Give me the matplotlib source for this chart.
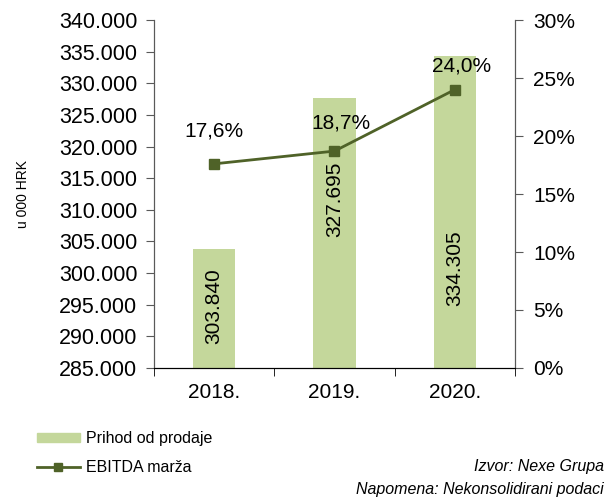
import matplotlib.pyplot as plt
from matplotlib.lines import Line2D
from matplotlib.patches import Patch
from matplotlib.ticker import FuncFormatter

plt.rcParams['font.family'] = ['Liberation Sans', 'DejaVu Sans']

years = ['2018.', '2019.', '2020.']
revenue = [303.840, 327.695, 334.305]
ebitda_margin = [17.6, 18.7, 24.0]
revenue_labels = ['303.840', '327.695', '334.305']
margin_labels = ['17,6%', '18,7%', '24,0%']
# where the bar labels sit (value axis), as placed in the original
revenue_label_y = [294.7, 311.6, 300.8]
# pixel offsets of the margin labels from their points
margin_label_offset = [(0, 33), (6, 28), (7, 24)]

bar_color = '#c4d79b'
line_color = '#4f6228'

fig = plt.figure(figsize=(6.08, 5.03), dpi=100)
ax = fig.add_axes([0.2533, 0.2684, 0.5937, 0.6918])
ax2 = ax.twinx()

x = range(len(years))
ax.bar(x, revenue, width=0.35, color=bar_color, zorder=2)
ax.set_ylim(285, 340)
ax.set_xlim(-0.5, 2.5)
ax.set_yticks([285 + 5 * i for i in range(12)])
ax.yaxis.set_major_formatter(FuncFormatter(lambda v, p: f'{v:.3f}'))
ax.set_xticks(list(x))
ax.set_xticklabels(years)
ax.set_xticks([-0.5, 0.5, 1.5, 2.5], minor=True)
ax.tick_params(axis='x', which='major', length=0, pad=11, labelsize=15)
ax.tick_params(axis='x', which='minor', length=6, direction='out', color='black')
ax.tick_params(axis='y', length=6, direction='out', labelsize=15.5, color='#595959', pad=6)
ax.set_ylabel('u 000 HRK', fontsize=10, labelpad=21)

for i in x:
    ax.text(i, revenue_label_y[i], revenue_labels[i], rotation=90, ha='center', va='center',
            fontsize=15, zorder=3)

ax2.plot(x, ebitda_margin, color=line_color, lw=2, marker='s', markersize=7, zorder=4)
ax2.set_ylim(0, 30)
ax2.set_yticks([0, 5, 10, 15, 20, 25, 30])
ax2.yaxis.set_major_formatter(FuncFormatter(lambda v, p: f'{v:.0f}%'))
ax2.tick_params(axis='y', length=6, direction='out', labelsize=15, color='#595959', pad=7)

for i in x:
    ax2.annotate(margin_labels[i], (i, ebitda_margin[i]), xytext=margin_label_offset[i],
                 textcoords='offset pixels', ha='center', va='center', fontsize=15)

for a in (ax, ax2):
    a.spines['top'].set_visible(False)
    a.spines['left'].set_color('#595959')
    a.spines['right'].set_color('#595959')
    a.spines['bottom'].set_color('black')

handles = [Patch(color=bar_color, label='Prihod od prodaje'),
           Line2D([0], [0], color=line_color, lw=2, marker='s', markersize=6, label='EBITDA marža')]
fig.legend(handles=handles, loc='upper left', bbox_to_anchor=(0.037, 0.171), frameon=False,
           fontsize=11.5, handlelength=2.7, handleheight=0.5, labelspacing=0.85, handletextpad=0.4)

fig.text(0.993, 0.073, 'Izvor: Nexe Grupa', ha='right', va='center', fontsize=11.5, style='italic')
fig.text(0.993, 0.026, 'Napomena: Nekonsolidirani podaci', ha='right', va='center', fontsize=11.5,
         style='italic')

fig.savefig('out.png', dpi=100)
